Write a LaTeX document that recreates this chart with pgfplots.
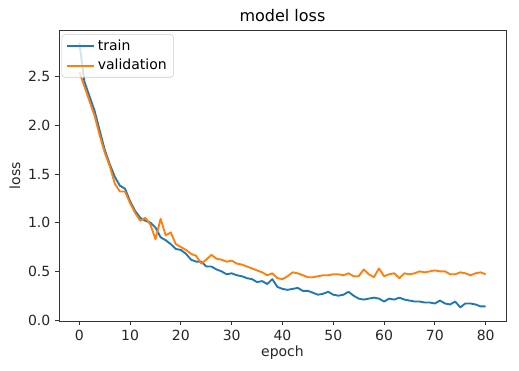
\documentclass[border=0pt]{standalone}
\usepackage{pgfplots}
\pgfplotsset{compat=1.18}
\usepackage{fontspec}
\setmainfont{DejaVu Sans}
\definecolor{tabblue}{HTML}{1F77B4}
\definecolor{taborange}{HTML}{FF7F0E}
\begin{document}
\begin{tikzpicture}[x=1pt,y=1pt]
\path (-44.25,-37.5) rectangle (345.0,240.75);
\begin{axis}[
  at={(0,0)}, anchor=south west,
  scale only axis, width=335.25pt, height=218.25pt,
  xmin=-4, xmax=84, ymin=-0.01, ymax=2.98,
  xtick={0,10,...,80}, ytick={0,0.5,...,2.5},
  axis line style={black!80, line width=0.7pt},
  tick align=outside, major tick length=3pt,
  tick style={black!80, line width=0.7pt},
  xtick pos=bottom, ytick pos=left,
  yticklabel style={/pgf/number format/.cd, fixed, fixed zerofill, precision=1},
  /pgf/number format/assume math mode=true,
  tick label style={font=\fontsize{10.5}{12}\selectfont, color=black!85},
  label style={font=\fontsize{10.5}{12}\selectfont, color=black!85},
  title style={font=\fontsize{12}{14}\selectfont, yshift=-3pt},
  title={model loss}, xlabel={epoch}, ylabel={loss},
  xlabel style={yshift=3pt}, ylabel style={yshift=-1pt},
  legend style={draw=black!20, rounded corners=2pt, fill=white, fill opacity=0.8, text opacity=1,
    font=\fontsize{10.5}{12}\selectfont, inner xsep=3pt, inner ysep=2pt, row sep=1pt,
    at={(0.006,0.985)}, anchor=north west},
  legend cell align=left,
  legend image code/.code={\draw[#1] (0cm,0cm) -- (0.72cm,0cm);},
]
\addplot[tabblue, line width=1.4pt, line join=round] coordinates {
(0,2.85)(1,2.45)(2,2.30)(3,2.15)(4,1.95)(5,1.75)(6,1.60)(7,1.47)(8,1.38)(9,1.35)
(10,1.22)(11,1.12)(12,1.05)(13,1.02)(14,1.00)(15,0.95)(16,0.85)(17,0.82)(18,0.78)(19,0.73)
(20,0.72)(21,0.68)(22,0.62)(23,0.60)(24,0.60)(25,0.55)(26,0.55)(27,0.52)(28,0.50)(29,0.47)
(30,0.48)(31,0.46)(32,0.45)(33,0.43)(34,0.42)(35,0.39)(36,0.40)(37,0.37)(38,0.42)(39,0.34)
(40,0.32)(41,0.31)(42,0.32)(43,0.33)(44,0.30)(45,0.30)(46,0.28)(47,0.26)(48,0.27)(49,0.29)
(50,0.26)(51,0.25)(52,0.26)(53,0.29)(54,0.25)(55,0.22)(56,0.21)(57,0.22)(58,0.23)(59,0.22)
(60,0.19)(61,0.22)(62,0.21)(63,0.23)(64,0.21)(65,0.20)(66,0.19)(67,0.19)(68,0.18)(69,0.18)
(70,0.17)(71,0.20)(72,0.17)(73,0.16)(74,0.19)(75,0.13)(76,0.17)(77,0.17)(78,0.16)(79,0.14)(80,0.14)
};
\addlegendentry{train}
\addplot[taborange, line width=1.4pt, line join=round] coordinates {
(0,2.55)(1,2.40)(2,2.25)(3,2.10)(4,1.90)(5,1.72)(6,1.58)(7,1.40)(8,1.32)(9,1.32)
(10,1.20)(11,1.10)(12,1.02)(13,1.05)(14,0.98)(15,0.83)(16,1.04)(17,0.87)(18,0.90)(19,0.78)
(20,0.75)(21,0.72)(22,0.68)(23,0.66)(24,0.58)(25,0.62)(26,0.67)(27,0.63)(28,0.62)(29,0.60)
(30,0.61)(31,0.58)(32,0.57)(33,0.55)(34,0.53)(35,0.51)(36,0.49)(37,0.46)(38,0.48)(39,0.43)
(40,0.42)(41,0.45)(42,0.49)(43,0.48)(44,0.46)(45,0.44)(46,0.44)(47,0.45)(48,0.46)(49,0.46)
(50,0.47)(51,0.47)(52,0.46)(53,0.48)(54,0.45)(55,0.45)(56,0.52)(57,0.47)(58,0.44)(59,0.53)
(60,0.45)(61,0.47)(62,0.48)(63,0.43)(64,0.48)(65,0.47)(66,0.48)(67,0.50)(68,0.49)(69,0.50)
(70,0.51)(71,0.50)(72,0.50)(73,0.47)(74,0.47)(75,0.49)(76,0.48)(77,0.46)(78,0.48)(79,0.49)(80,0.47)
};
\addlegendentry{validation}
\end{axis}
\end{tikzpicture}
\end{document}
